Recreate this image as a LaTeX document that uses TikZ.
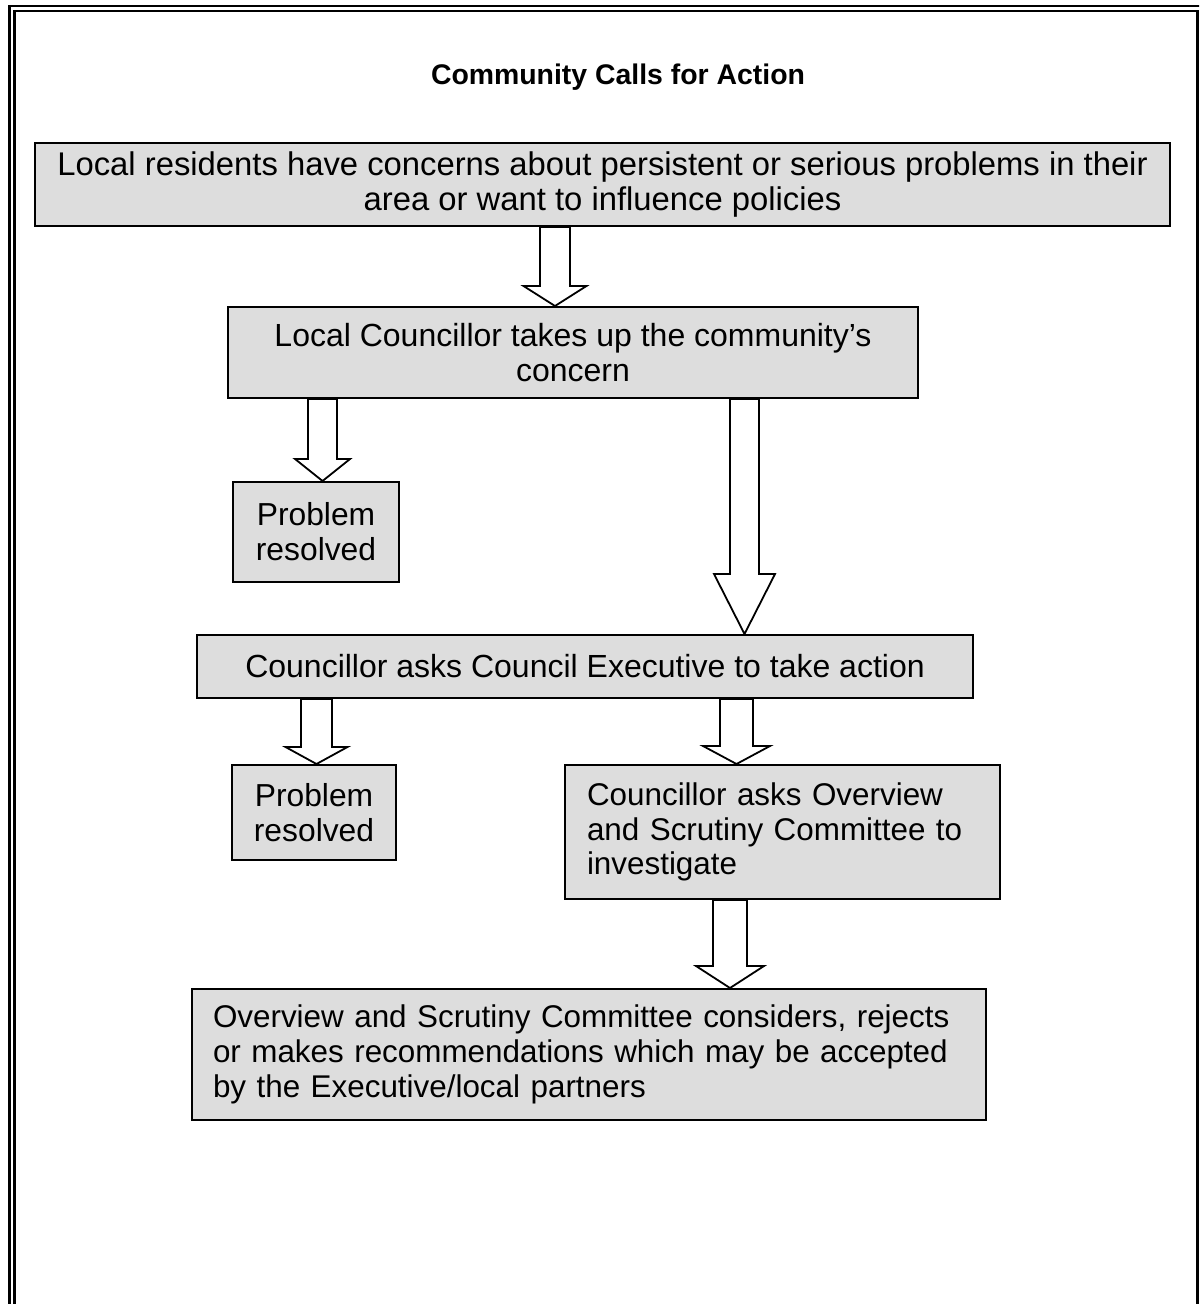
\documentclass[tikz,border=0pt]{standalone}
\usepackage{fontspec}
\setmainfont{Liberation Sans}
\usetikzlibrary{calc}
\definecolor{boxgray}{RGB}{221,221,221}
\tikzset{
  box/.style={draw=black, line width=1pt, fill=boxgray, inner ysep=0pt,
    font=\fontsize{16pt}{17.5pt}\selectfont},
  barrow/.style={draw=black, line width=0.9pt, fill=white, line join=miter},
  framev/.style={draw=black, line width=1.5pt},
  frameh/.style={draw=black, line width=1pt},
}
% #1 source node, #2 target node, #3 x centre, #4 shaft half width, #5 head half width, #6 head length
\newcommand\blockarrow[6]{%
  \draw[barrow] ({#3-#4},0 |- #1.south)
    -- ($({#3-#4},0 |- #2.north)+(0,-#6)$)
    -- ($({#3-#5},0 |- #2.north)+(0,-#6)$)
    -- (#3,0 |- #2.north)
    -- ($({#3+#5},0 |- #2.north)+(0,-#6)$)
    -- ($({#3+#4},0 |- #2.north)+(0,-#6)$)
    -- ({#3+#4},0 |- #1.south) -- cycle;}
\begin{document}
\begin{tikzpicture}[x=0.5pt,y=-0.5pt]
\clip (0,0) rectangle (1199,1304);
\fill[white] (0,0) rectangle (1199,1304);
% page frame
\draw[framev] (9.5,1320) -- (9.5,5.5);
\draw[frameh] (9,6) -- (1220,6);
\draw[framev] (14.5,1320) -- (14.5,10.5);
\draw[frameh] (14,11) -- (1198,11);
\draw[framev] (1197.5,10.5) -- (1197.5,1320);

\node[font=\bfseries\fontsize{14.2pt}{17pt}\selectfont] (title) at (618,77) {Community Calls for Action};

\node[box, minimum width=567.5pt, minimum height=41.5pt, align=center,
  font=\fontsize{16.4pt}{17.5pt}\selectfont] (b1) at (602.5,184.5)
  {Local residents have concerns about persistent or serious problems in their\\area or want to influence policies};
\node[box, minimum width=345pt, minimum height=45.5pt, align=center] (b2) at (573,352.5)
  {Local Councillor takes up the community's\\concern};
\node[box, minimum width=83pt, minimum height=50pt, align=center,
  font=\fontsize{15.9pt}{17.5pt}\selectfont] (b3) at (316,532)
  {Problem\\resolved};
\node[box, minimum width=388pt, minimum height=31.5pt, align=center] (b4) at (585,666.5)
  {Councillor asks Council Executive to take action};
\node[box, minimum width=82pt, minimum height=47.5pt, align=center,
  font=\fontsize{15.9pt}{17.5pt}\selectfont] (b5) at (314,812.5)
  {Problem\\resolved};
\node[box, minimum width=217.5pt, minimum height=67pt, inner xsep=11pt, text width=195.5pt, align=left,
  font=\fontsize{15.7pt}{17.2pt}\selectfont] (b6) at (782.5,832)
  {Councillor asks Overview\\and Scrutiny Committee to\\investigate};
\node[box, minimum width=397pt, minimum height=65.5pt, inner xsep=10.5pt, text width=376pt, align=left,
  font=\fontsize{15.7pt}{17.4pt}\selectfont] (b7) at (589,1054.5)
  {Overview and Scrutiny Committee considers, rejects\\or makes recommendations which may be accepted\\by the Executive/local partners};

\blockarrow{b1}{b2}{555}{15}{31.5}{20}
\blockarrow{b2}{b3}{322.5}{14.5}{27.5}{22}
\blockarrow{b2}{b4}{744.5}{14.5}{30.5}{60}
\blockarrow{b4}{b5}{316.5}{15.5}{31}{17}
\blockarrow{b4}{b6}{736.5}{16.5}{33.5}{18}
\blockarrow{b6}{b7}{730}{17}{34}{22}
\end{tikzpicture}
\end{document}
